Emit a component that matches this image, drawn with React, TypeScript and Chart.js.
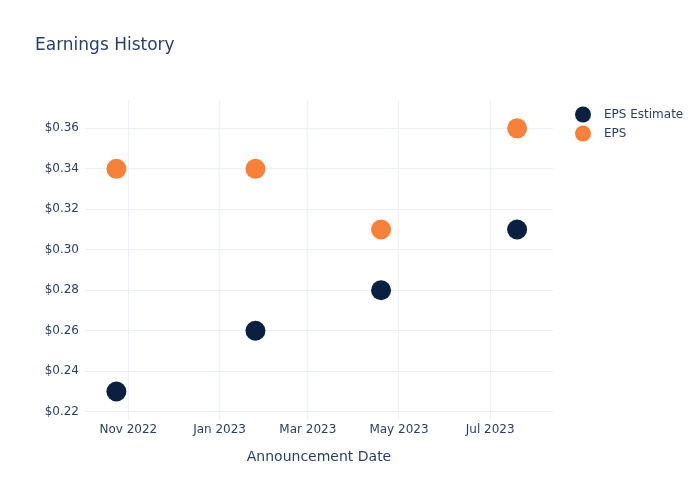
import React, { useEffect, useRef } from "react";
import { Chart, registerables } from "chart.js";

Chart.register(...registerables);

const dates = ["2022-10-24", "2023-01-25", "2023-04-19", "2023-07-19"];
const epsEstimate = [0.23, 0.26, 0.28, 0.31];
const eps = [0.34, 0.34, 0.31, 0.36];
const xTickDates = ["2022-11-01", "2023-01-01", "2023-03-01", "2023-05-01", "2023-07-01"];
const yTicks = [0.22, 0.24, 0.26, 0.28, 0.3, 0.32, 0.34, 0.36];
const xRange = ["2022-10-03", "2023-08-12"];
const yRange = [0.2159, 0.374];
const seriesNames = ["EPS Estimate", "EPS"];
const seriesColors = ["#0B1F40", "#F7803A"];
const titleText = "Earnings History";
const xTitle = "Announcement Date";

const MONTHS = ["Jan", "Feb", "Mar", "Apr", "May", "Jun", "Jul", "Aug", "Sep", "Oct", "Nov", "Dec"];
const toTs = (s: string) => Date.parse(s + "T00:00:00Z");
const FONT = "'DejaVu Sans', sans-serif";
const TEXT = "#2a3f5f";
const GRID = "#EBF0F8";

export default function App() {
  const ref = useRef<HTMLCanvasElement | null>(null);
  useEffect(() => {
    if (!ref.current) return;
    const overlay = {
      id: "overlay",
      afterDraw(chart: any) {
        const ctx = chart.ctx;
        const area = chart.chartArea;
        ctx.save();
        ctx.fillStyle = TEXT;
        ctx.textBaseline = "middle";
        ctx.font = `17px ${FONT}`;
        ctx.textAlign = "left";
        ctx.fillText(titleText, 35, 45.5);
        ctx.font = `14px ${FONT}`;
        ctx.textAlign = "center";
        ctx.fillText(xTitle, (area.left + area.right) / 2, 457);
        ctx.font = `12px ${FONT}`;
        ctx.textAlign = "left";
        seriesNames.forEach((n, i) => {
          const y = 114.5 + i * 19;
          ctx.beginPath();
          ctx.fillStyle = seriesColors[i];
          ctx.arc(583, y, 8, 0, Math.PI * 2);
          ctx.fill();
          ctx.fillStyle = TEXT;
          ctx.fillText(n, 604, y + 0.5);
        });
        ctx.restore();
      },
    };
    const chart = new Chart(ref.current, {
      type: "scatter",
      data: {
        datasets: [
          {
            label: seriesNames[0],
            data: dates.map((d, i) => ({ x: toTs(d), y: epsEstimate[i] })),
            backgroundColor: seriesColors[0],
            borderColor: seriesColors[0],
            pointRadius: 10,
            pointHoverRadius: 10,
            borderWidth: 0,
          },
          {
            label: seriesNames[1],
            data: dates.map((d, i) => ({ x: toTs(d), y: eps[i] })),
            backgroundColor: seriesColors[1],
            borderColor: seriesColors[1],
            pointRadius: 10,
            pointHoverRadius: 10,
            borderWidth: 0,
          },
        ],
      },
      options: {
        animation: false,
        responsive: false,
        maintainAspectRatio: false,
        layout: { padding: { left: 0, right: 147, top: 100, bottom: 0 } },
        plugins: {
          legend: { display: false },
          title: { display: false },
          tooltip: { enabled: false },
        },
        scales: {
          x: {
            type: "linear",
            min: toTs(xRange[0]),
            max: toTs(xRange[1]),
            afterBuildTicks: (s: any) => {
              s.ticks = xTickDates.map((d) => ({ value: toTs(d) }));
            },
            afterFit: (s: any) => {
              s.height = 80;
            },
            border: { display: false },
            grid: { color: GRID, drawTicks: false, lineWidth: 1 },
            ticks: {
              color: TEXT,
              font: { family: FONT, size: 12 },
              padding: 3,
              maxRotation: 0,
              autoSkip: false,
              callback: (v: any) => {
                const d = new Date(Number(v));
                return `${MONTHS[d.getUTCMonth()]} ${d.getUTCFullYear()}`;
              },
            },
          },
          y: {
            type: "linear",
            min: yRange[0],
            max: yRange[1],
            afterBuildTicks: (s: any) => {
              s.ticks = yTicks.map((v) => ({ value: v }));
            },
            afterFit: (s: any) => {
              s.width = 85;
            },
            border: { display: false },
            grid: { color: GRID, drawTicks: false, lineWidth: 1 },
            ticks: {
              color: TEXT,
              font: { family: FONT, size: 12 },
              padding: 6,
              callback: (v: any) => `$${Number(v).toFixed(2)}`,
            },
          },
        },
      },
      plugins: [overlay],
    } as any);
    return () => chart.destroy();
  }, []);
  return (
    <div style={{ position: "absolute", left: 0, top: 0, width: 700, height: 500, background: "#fff" }}>
      <canvas ref={ref} width={700} height={500} style={{ width: 700, height: 500 }} />
    </div>
  );
}
